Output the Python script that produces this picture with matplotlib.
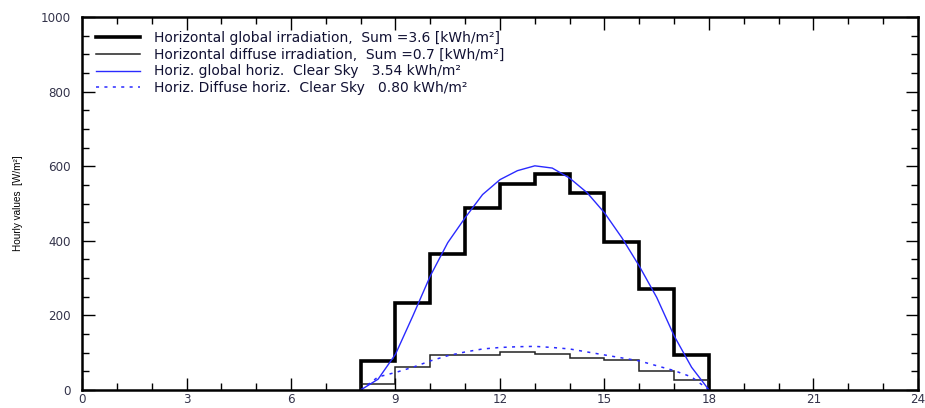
import matplotlib
matplotlib.use("Agg")
import matplotlib.pyplot as plt
from matplotlib.ticker import MultipleLocator

plt.rcParams['font.family'] = ['DejaVu Sans']

# Hourly step data (hour edges 8..18)
hour_edges = [8, 9, 10, 11, 12, 13, 14, 15, 16, 17, 18]
global_irr = [78, 232, 365, 488, 553, 578, 529, 397, 270, 94]
diffuse_irr = [16, 63, 94, 94, 101, 96, 85, 80, 52, 28]

# Clear sky model curves (read at half-hours)
cs_hours = [8.0, 8.5, 9.0, 9.5, 10.0, 10.5, 11.0, 11.5, 12.0, 12.5, 13.0,
            13.5, 14.0, 14.5, 15.0, 15.5, 16.0, 16.5, 17.0, 17.5, 18.0]
cs_global = [0, 29, 96, 199, 306, 395, 462, 524, 564, 588, 601,
             595, 568, 529, 475, 408, 332, 248, 145, 61, 0]
cs_diffuse = [0, 35, 47, 61, 78, 92, 102, 110, 114, 116, 117,
              114, 110, 102, 94, 86, 78, 65, 52, 35, 0]

labels = ["Horizontal global irradiation,  Sum =3.6 [kWh/m²]",
          "Horizontal diffuse irradiation,  Sum =0.7 [kWh/m²]",
          "Horiz. global horiz.  Clear Sky   3.54 kWh/m²",
          "Horiz. Diffuse horiz.  Clear Sky   0.80 kWh/m²"]

fig = plt.figure(figsize=(9.25, 4.08), dpi=100)
ax = fig.add_axes([82/925, 18/408, 836/925, 373/408])

blue = '#2a2aff'
ax.stairs(global_irr, hour_edges, baseline=0, color='black', lw=2.6, label=labels[0])
ax.stairs(diffuse_irr, hour_edges, baseline=0, color='#222222', lw=1.1, label=labels[1])
ax.plot(cs_hours, cs_global, color=blue, lw=1.0, label=labels[2])
ax.plot(cs_hours, cs_diffuse, color=blue, lw=1.1, linestyle=(0, (2, 3.5)), label=labels[3])

ax.set_xlim(0, 24)
ax.set_ylim(0, 1000)
ax.xaxis.set_major_locator(MultipleLocator(3))
ax.xaxis.set_minor_locator(MultipleLocator(1))
ax.yaxis.set_major_locator(MultipleLocator(200))
ax.yaxis.set_minor_locator(MultipleLocator(50))
tick_col = '#33334a'
ax.tick_params(which='both', direction='in', top=True, right=True, width=1.0,
               colors='black', labelcolor=tick_col, labelsize=8.6)
ax.tick_params(axis='y', pad=8)
ax.tick_params(axis='x', pad=2)
ax.tick_params(which='major', length=9)
ax.tick_params(which='minor', length=5)
for s in ax.spines.values():
    s.set_linewidth(1.8)

ax.set_ylabel("Hourly values  [W/m²]", fontsize=7.2, labelpad=13,
              family='Liberation Sans')

leg = ax.legend(loc='upper left', frameon=False, fontsize=10,
                handlelength=3.2, handletextpad=1.0, labelspacing=0.2,
                bbox_to_anchor=(0.0, 1.0), borderaxespad=0.6)
for t in leg.get_texts():
    t.set_color('#111133')

fig.savefig("out.png", dpi=100)
